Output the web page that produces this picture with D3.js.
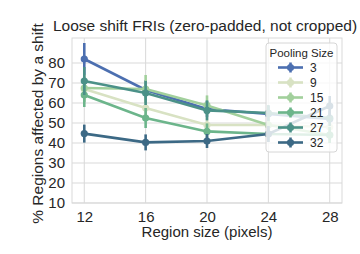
<!DOCTYPE html>
<html>
<head>
<meta charset="utf-8">
<script src="https://cdn.jsdelivr.net/npm/d3@7"></script>
<style>
  body { margin: 0; background: #fff; }
  svg { display: block; font-family: "Liberation Sans", Arial, sans-serif; }
</style>
</head>
<body>
<svg id="chart" width="360" height="254"></svg>
<script>
// Region sizes on the x axis
const regionSizes = [12, 16, 20, 24, 28];
const poolingSizes = ['3', '9', '15', '21', '27', '32'];
const poolColors = ['#4c6fb0', '#d8e2c3', '#a2d09c', '#6cb58b', '#4b9188', '#3c6985'];

// mean % per pooling size (one value per region size)
const means3 = [82, 66.5, 57, 54.5, 52];
const means9 = [67, 57.5, 49, 49, 48];
const means15 = [67.5, 67, 58.8, 49, 44];
const means21 = [64, 52.5, 45.8, 44.5, 44];
const means27 = [71, 65, 56.3, 55, 52.5];
const means32 = [44.7, 40.3, 41, 44.5, 58.5];

// half-width of the confidence bars
const err3 = [8, 5, 4, 4, 4];
const err9 = [6, 5, 4, 4, 4];
const err15 = [7, 7, 5, 4, 4];
const err21 = [6, 5, 4, 4, 4];
const err27 = [7, 6, 5, 4, 4];
const err32 = [4.5, 4, 3.5, 4, 5];

const yTicks = [10, 20, 30, 40, 50, 60, 70, 80];

const allMeans = [means3, means9, means15, means21, means27, means32];
const allErr = [err3, err9, err15, err21, err27, err32];

const series = poolingSizes.map((p, i) => ({
  name: p,
  color: poolColors[i],
  points: regionSizes.map((x, j) => ({ x, y: allMeans[i][j], e: allErr[i][j] }))
}));

const svg = d3.select('#chart');
const margin = { left: 72, right: 18, top: 38, bottom: 51 };
const W = 360, H = 254;

const x = d3.scaleLinear().domain([11.2, 28.8]).range([margin.left, W - margin.right]);
const y = d3.scaleLinear().domain([10, 92.5]).range([H - margin.bottom, margin.top]);

const grid = '#d9d9d9';

// grid lines
svg.append('g')
  .selectAll('line.gx')
  .data(regionSizes)
  .join('line')
  .attr('x1', d => x(d)).attr('x2', d => x(d))
  .attr('y1', margin.top).attr('y2', H - margin.bottom)
  .attr('stroke', grid).attr('stroke-width', 1);

svg.append('g')
  .selectAll('line.gy')
  .data(yTicks)
  .join('line')
  .attr('x1', margin.left).attr('x2', W - margin.right)
  .attr('y1', d => y(d)).attr('y2', d => y(d))
  .attr('stroke', grid).attr('stroke-width', 1);

// frame
svg.append('rect')
  .attr('x', margin.left).attr('y', margin.top)
  .attr('width', W - margin.left - margin.right)
  .attr('height', H - margin.top - margin.bottom)
  .attr('fill', 'none').attr('stroke', grid).attr('stroke-width', 1);

// axes (text only, seaborn whitegrid style has no tick marks)
const xAxis = svg.append('g')
  .attr('transform', `translate(0,${H - margin.bottom})`)
  .call(d3.axisBottom(x).tickValues(regionSizes).tickSize(0).tickPadding(8));
const yAxis = svg.append('g')
  .attr('transform', `translate(${margin.left},0)`)
  .call(d3.axisLeft(y).tickValues(yTicks).tickSize(0).tickPadding(7));
[xAxis, yAxis].forEach(a => {
  a.select('.domain').remove();
  a.selectAll('text')
    .attr('fill', '#262626')
    .style('font-size', '15px')
    .style('font-family', '"Liberation Sans", Arial, sans-serif');
});

// labels
svg.append('text')
  .attr('x', (margin.left + W - margin.right) / 2 - 2)
  .attr('y', 31)
  .attr('text-anchor', 'middle')
  .attr('fill', '#262626')
  .style('font-size', '15.5px')
  .text('Loose shift FRIs (zero-padded, not cropped)');

svg.append('text')
  .attr('x', (margin.left + W - margin.right) / 2)
  .attr('y', 237)
  .attr('text-anchor', 'middle')
  .attr('fill', '#262626')
  .style('font-size', '15px')
  .text('Region size (pixels)');

svg.append('text')
  .attr('transform', `translate(43,${(margin.top + H - margin.bottom) / 2 + 3}) rotate(-90)`)
  .attr('text-anchor', 'middle')
  .attr('fill', '#262626')
  .style('font-size', '15.5px')
  .text('% Regions affected by a shift');

// series
const line = d3.line().x(d => x(d.x)).y(d => y(d.y));
const gs = svg.append('g')
  .selectAll('g.series')
  .data(series)
  .join('g');

gs.append('path')
  .attr('d', d => line(d.points))
  .attr('fill', 'none')
  .attr('stroke', d => d.color)
  .attr('stroke-width', 2.6);

gs.selectAll('line.err')
  .data(d => d.points.map(p => ({ ...p, color: d.color })))
  .join('line')
  .attr('x1', d => x(d.x)).attr('x2', d => x(d.x))
  .attr('y1', d => y(d.y - d.e)).attr('y2', d => y(d.y + d.e))
  .attr('stroke', d => d.color)
  .attr('stroke-width', 2.6);

gs.selectAll('circle')
  .data(d => d.points.map(p => ({ ...p, color: d.color })))
  .join('circle')
  .attr('cx', d => x(d.x)).attr('cy', d => y(d.y))
  .attr('r', 3.6)
  .attr('fill', d => d.color);

// legend
const lg = svg.append('g').attr('transform', 'translate(266,43)');
lg.append('rect')
  .attr('width', 71).attr('height', 109)
  .attr('rx', 3)
  .attr('fill', 'rgba(255,255,255,0.8)')
  .attr('stroke', '#d6d6d6');
lg.append('text')
  .attr('x', 35.5).attr('y', 14)
  .attr('text-anchor', 'middle')
  .attr('fill', '#262626')
  .style('font-size', '11.5px')
  .text('Pooling Size');
const items = lg.selectAll('g.item')
  .data(series)
  .join('g')
  .attr('transform', (d, i) => `translate(0,${24.5 + i * 15})`);
items.append('line')
  .attr('x1', 12).attr('x2', 37)
  .attr('stroke', d => d.color).attr('stroke-width', 2.6);
items.append('line')
  .attr('x1', 24.5).attr('x2', 24.5).attr('y1', -5).attr('y2', 5)
  .attr('stroke', d => d.color).attr('stroke-width', 2.6);
items.append('circle')
  .attr('cx', 24.5).attr('r', 3.6)
  .attr('fill', d => d.color);
items.append('text')
  .attr('x', 44).attr('dy', '0.35em')
  .attr('fill', '#262626')
  .style('font-size', '12px')
  .text(d => d.name);
</script>
</body>
</html>
